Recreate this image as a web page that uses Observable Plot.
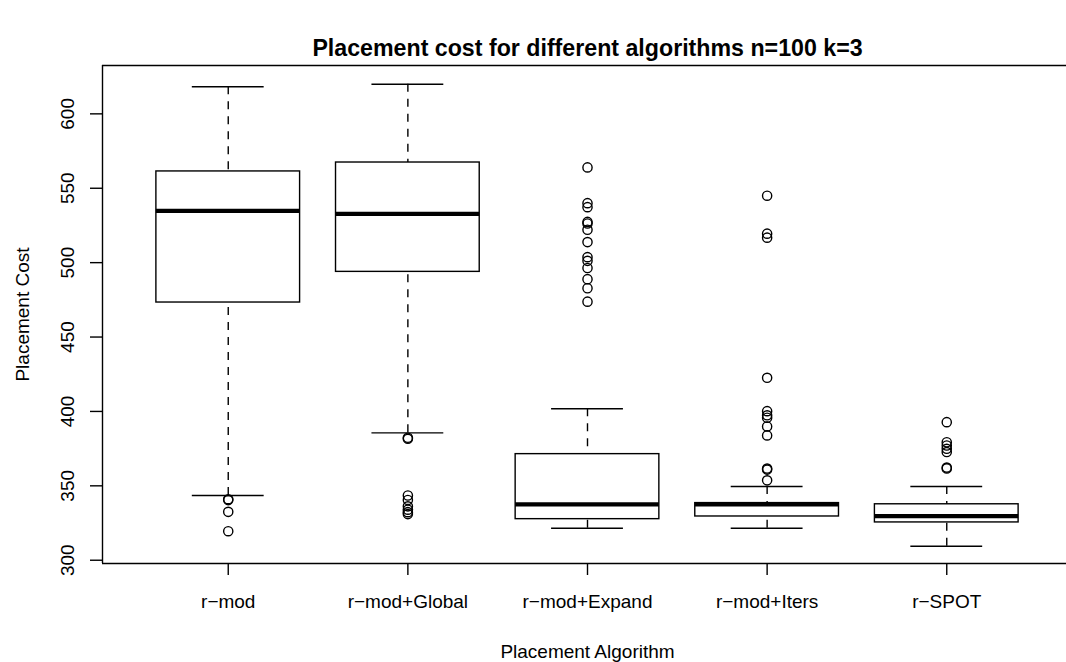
<!DOCTYPE html>
<html>
<head>
<meta charset="utf-8">
<script src="https://cdn.jsdelivr.net/npm/d3@7"></script>
<script src="https://cdn.jsdelivr.net/npm/@observablehq/plot@0.6"></script>
<style>
  html, body { margin: 0; padding: 0; background: white; }
  #chart { width: 1066px; height: 662px; overflow: hidden; }
</style>
</head>
<body>
<div id="chart"></div>
<script>
// ---- data ----
const title = "Placement cost for different algorithms n=100 k=3";
const xTitle = "Placement Algorithm";
const yTitle = "Placement Cost";
const categories = ["r\u2212mod", "r\u2212mod+Global", "r\u2212mod+Expand", "r\u2212mod+Iters", "r\u2212SPOT"];
const lowerWhisker = [343.5, 385.6, 321.5, 321.5, 309.4];
const lowerQuartile = [473.2, 493.8, 327.6, 329.4, 325.4];
const medians = [534.8, 532.8, 337.6, 337.6, 329.6];
const upperQuartile = [561.3, 567.3, 371.3, 338.4, 337.6];
const upperWhisker = [618.2, 619.9, 401.8, 349.6, 349.6];
const outliers = [
  [341.0, 340.4, 332.5, 319.5],
  [382.3, 381.6, 343.5, 340.5, 336.2, 334.0, 332.3, 331.0],
  [564.0, 540.0, 537.3, 527.4, 526.3, 522.1, 513.8, 503.7, 501.2, 496.4, 488.9, 482.8, 473.8],
  [545.0, 519.5, 516.8, 422.6, 400.2, 397.4, 395.8, 389.9, 383.9, 361.6, 360.9, 353.7],
  [392.8, 379.3, 377.1, 374.9, 372.7, 362.3, 361.7]
];
const yTicks = [300, 350, 400, 450, 500, 550, 600];
const xTicks = [1, 2, 3, 4, 5];

// ---- tables built from the arrays ----
const boxes = categories.map((c, i) => ({
  pos: i + 1, name: c,
  lo: lowerWhisker[i], q1: lowerQuartile[i], med: medians[i],
  q3: upperQuartile[i], hi: upperWhisker[i]
}));
const points = outliers.flatMap((arr, i) => arr.map(v => ({pos: i + 1, v})));

const yDomain = [297.8, 632.5];
const xDomain = [0.3, 5.7];
const ink = "black";
const lw = 1.4;

const chart = Plot.plot({
  width: 1066,
  height: 662,
  marginLeft: 102,
  marginRight: 0,
  marginTop: 65,
  marginBottom: 99,
  style: {fontFamily: "'Liberation Sans', Arial, Helvetica, sans-serif", fontSize: "19px", background: "white", color: "black"},
  x: {type: "linear", domain: xDomain, range: [102, 1072]},
  y: {domain: yDomain},
  marks: [
    // axes ticks (labels drawn separately)
    Plot.axisY({ticks: yTicks, tickSize: 12, tickFormat: () => "", label: null, strokeWidth: lw}),
    Plot.axisX({ticks: xTicks, tickSize: 12, tickFormat: () => "", label: null, strokeWidth: lw}),
    // whiskers (dashed)
    Plot.ruleX(boxes, {x: "pos", y1: "hi", y2: "q3", stroke: ink, strokeWidth: lw, strokeDasharray: "8,7"}),
    Plot.ruleX(boxes, {x: "pos", y1: "lo", y2: "q1", stroke: ink, strokeWidth: lw, strokeDasharray: "8,7"}),
    // staples
    Plot.ruleY(boxes, {y: "hi", x1: d => d.pos - 0.2, x2: d => d.pos + 0.2, stroke: ink, strokeWidth: lw}),
    Plot.ruleY(boxes, {y: "lo", x1: d => d.pos - 0.2, x2: d => d.pos + 0.2, stroke: ink, strokeWidth: lw}),
    // boxes
    Plot.rect(boxes, {x1: d => d.pos - 0.4, x2: d => d.pos + 0.4, y1: "q1", y2: "q3", fill: "white", stroke: ink, strokeWidth: lw}),
    // medians
    Plot.ruleY(boxes, {y: "med", x1: d => d.pos - 0.4, x2: d => d.pos + 0.4, stroke: ink, strokeWidth: 4.3}),
    // outliers
    Plot.dot(points, {x: "pos", y: "v", r: 4.6, stroke: ink, fill: "none", strokeWidth: lw}),
    // frame (right side falls outside the picture)
    Plot.ruleY([yDomain[0], yDomain[1]], {stroke: ink, strokeWidth: lw}),
    Plot.ruleX([xDomain[0]], {stroke: ink, strokeWidth: lw}),
    // tick labels
    Plot.text(yTicks, {y: d => d, text: d => String(d), frameAnchor: "left", dx: -29, rotate: -90, textAnchor: "middle", lineAnchor: "bottom", fontSize: 19, fill: ink}),
    Plot.text(categories, {x: (d, i) => i + 1, text: d => d, frameAnchor: "bottom", dy: 44, textAnchor: "middle", lineAnchor: "bottom", fontSize: 19, fill: ink}),
    // titles
    Plot.text([xTitle], {x: () => 3, text: d => d, frameAnchor: "bottom", dy: 94, textAnchor: "middle", lineAnchor: "bottom", fontSize: 19, fill: ink}),
    Plot.text([yTitle], {text: d => d, frameAnchor: "left", dx: -74, rotate: -90, textAnchor: "middle", lineAnchor: "bottom", fontSize: 19, fill: ink}),
    Plot.text([title], {x: () => 3, text: d => d, frameAnchor: "top", dy: -10, textAnchor: "middle", lineAnchor: "bottom", fontSize: 23.2, fontWeight: "bold", fill: ink})
  ]
});
document.getElementById("chart").appendChild(chart);
</script>
</body>
</html>
